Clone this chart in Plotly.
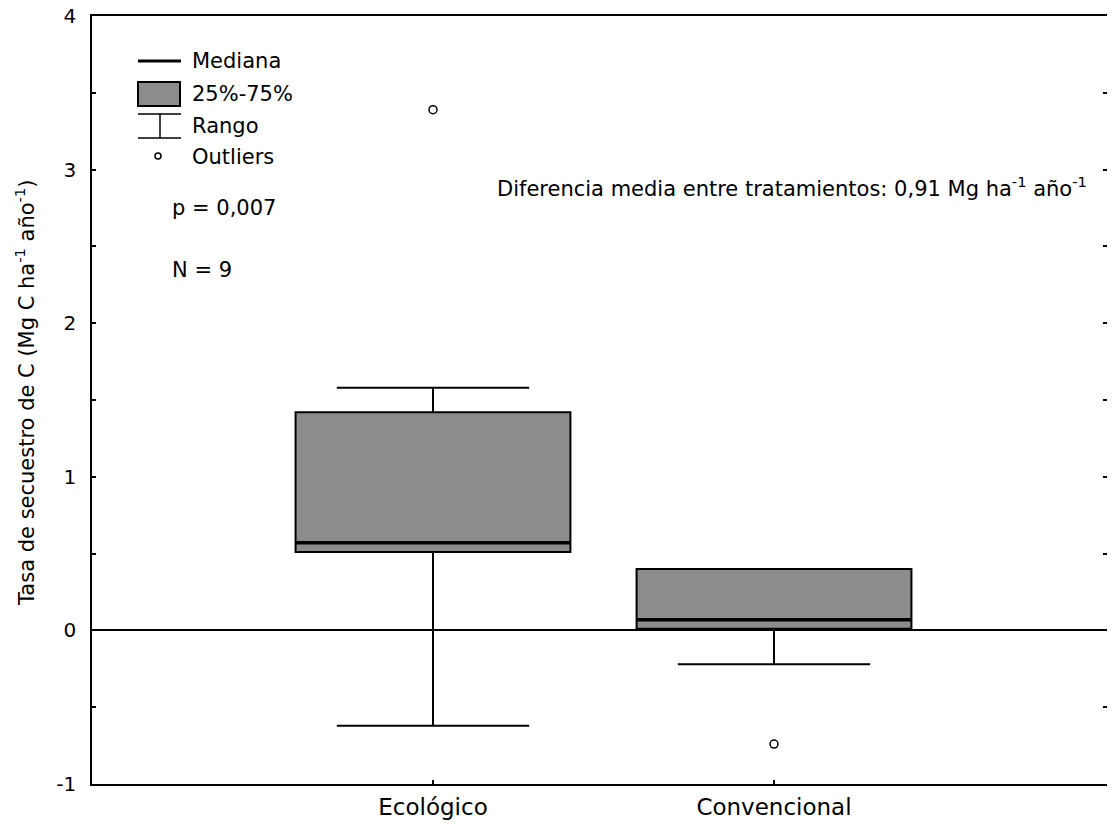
import plotly.graph_objects as go

# ---- data ----
categories = ["Ecológico", "Convencional"]
positions = [1, 2]
q1 = [0.51, 0.01]
median = [0.57, 0.07]
q3 = [1.42, 0.40]
whisker_low = [-0.62, -0.22]
whisker_high = [1.58, 0.01]
outlier_x = [1, 2]
outlier_y = [3.39, -0.74]
ytick_major = [-1, 0, 1, 2, 3, 4]
ytick_labels = ["-1", "0", "1", "2", "3", "4"]
ytick_all = [-1, -0.5, 0, 0.5, 1, 1.5, 2, 2.5, 3, 3.5, 4]

BOX_W = 0.806
FONT = "DejaVu Sans, Liberation Sans, Arial, sans-serif"
FILL = "#8c8c8c"

# page has an 8px body margin; figure sized to fit the 1115x832 window
OFF = 8
W, H = 1115 - 2 * OFF, 832 - 2 * OFF
L, R, T, B = 92 - OFF, 0, 16 - OFF, 832 - 784 - OFF
PW, PH = W - L - R, H - T - B
UNIT_PX = 341.0
XMAX = PW / UNIT_PX


def px(x):  # page pixel -> paper x
    return (x - OFF - L) / PW


def py(y):  # page pixel -> paper y
    return (H - B - (y - OFF)) / PH


fig = go.Figure()

for i in range(len(categories)):
    fig.add_trace(go.Box(
        x=[positions[i]], q1=[q1[i]], median=[median[i]], q3=[q3[i]],
        lowerfence=[whisker_low[i]], upperfence=[whisker_high[i]],
        width=BOX_W, whiskerwidth=0.7, fillcolor=FILL,
        line=dict(color="black", width=2), boxpoints=False,
        showlegend=False, hoverinfo="skip",
    ))

fig.add_trace(go.Scatter(
    x=outlier_x, y=outlier_y, mode="markers",
    marker=dict(symbol="circle-open", size=8, color="black", line=dict(width=1.5)),
    showlegend=False, hoverinfo="skip",
))

shapes = []
for i in range(len(categories)):
    shapes.append(dict(type="line", xref="x", yref="y",
                       x0=positions[i] - BOX_W / 2, x1=positions[i] + BOX_W / 2,
                       y0=median[i], y1=median[i],
                       line=dict(color="black", width=3.5)))

# legend samples
shapes += [
    dict(type="line", xref="paper", yref="paper", x0=px(138), x1=px(181), y0=py(61), y1=py(61),
         line=dict(color="black", width=3)),
    dict(type="rect", xref="paper", yref="paper", x0=px(138), x1=px(180), y0=py(82), y1=py(106),
         fillcolor=FILL, line=dict(color="black", width=2)),
    dict(type="line", xref="paper", yref="paper", x0=px(138), x1=px(181), y0=py(114), y1=py(114),
         line=dict(color="black", width=1.5)),
    dict(type="line", xref="paper", yref="paper", x0=px(160), x1=px(160), y0=py(114), y1=py(138),
         line=dict(color="black", width=1.5)),
    dict(type="line", xref="paper", yref="paper", x0=px(138), x1=px(181), y0=py(138), y1=py(138),
         line=dict(color="black", width=1.5)),
    dict(type="circle", xref="paper", yref="paper", x0=px(155), x1=px(161), y0=py(153), y1=py(159),
         line=dict(color="black", width=1.5)),
]

fs = 21
annotations = []
for txt, y in [("Mediana", 61), ("25%-75%", 94), ("Rango", 126), ("Outliers", 157)]:
    annotations.append(dict(text=txt, xref="paper", yref="paper", x=px(190), y=py(y),
                            xanchor="left", yanchor="middle", showarrow=False,
                            font=dict(family=FONT, size=fs, color="black")))
annotations += [
    dict(text="p = 0,007", xref="paper", yref="paper", x=px(170), y=py(208),
         xanchor="left", yanchor="middle", showarrow=False,
         font=dict(family=FONT, size=fs, color="black")),
    dict(text="N = 9", xref="paper", yref="paper", x=px(170), y=py(270),
         xanchor="left", yanchor="middle", showarrow=False,
         font=dict(family=FONT, size=fs, color="black")),
    dict(text="Diferencia media entre tratamientos: 0,91 Mg ha<sup>-1</sup> año<sup>-1</sup>",
         xref="paper", yref="paper", x=px(1089), y=py(187),
         xanchor="right", yanchor="middle", showarrow=False,
         font=dict(family=FONT, size=fs, color="black")),
    dict(text="Tasa de secuestro de C (Mg C ha<sup>-1</sup> año<sup>-1</sup>)",
         xref="paper", yref="paper", x=px(25), y=py(393), textangle=-90,
         xanchor="center", yanchor="middle", showarrow=False,
         font=dict(family=FONT, size=fs, color="black")),
]

fig.update_layout(
    width=W, height=H,
    margin=dict(l=L, r=R, t=T, b=B, pad=0),
    paper_bgcolor="white", plot_bgcolor="white",
    shapes=shapes, annotations=annotations,
    font=dict(family=FONT, size=fs, color="black"),
    xaxis=dict(range=[0, XMAX], tickvals=positions, ticktext=categories,
               ticks="inside", ticklen=4, tickwidth=1.5, tickcolor="black",
               showline=True, linecolor="black", linewidth=1.5, mirror=True,
               showgrid=False, zeroline=False, automargin=False,
               ticklabelstandoff=2, ticklabeloverflow="allow",
               tickfont=dict(family=FONT, size=23, color="black")),
    yaxis=dict(range=[-1, 4], tickvals=ytick_major, ticktext=ytick_labels,
               ticks="inside", ticklen=4, tickwidth=1.5, tickcolor="black",
               minor=dict(tickvals=ytick_all, ticks="inside", ticklen=4, tickwidth=1.5,
                          tickcolor="black", showgrid=False),
               showline=True, linecolor="black", linewidth=1.5,
               showgrid=False, zeroline=True, zerolinecolor="black", zerolinewidth=1.5,
               ticklabelstandoff=10, automargin=False, ticklabeloverflow="allow",
               tickfont=dict(family=FONT, size=20, color="black")),
    yaxis2=dict(range=[-1, 4], overlaying="y", side="right", tickvals=ytick_all,
                showticklabels=False, ticks="inside", ticklen=4, tickwidth=1.5,
                tickcolor="black", showline=False, showgrid=False, zeroline=False,
                automargin=False),
)

fig.add_trace(go.Scatter(x=[None], y=[None], yaxis="y2", showlegend=False, hoverinfo="skip"))

fig.write_html("out.html")
